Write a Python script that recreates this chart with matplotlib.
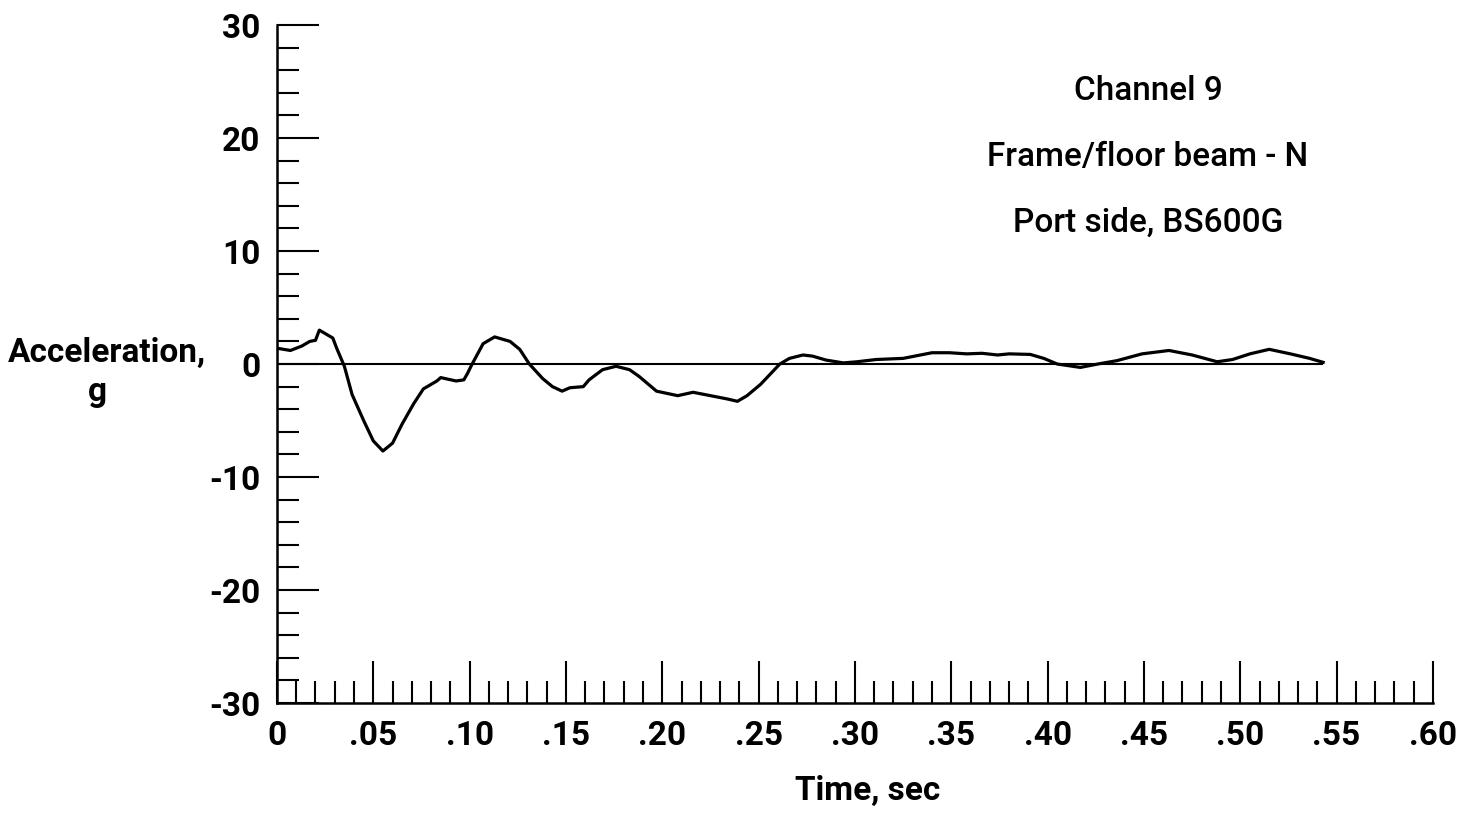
import numpy as np
import matplotlib
matplotlib.use("Agg")
from matplotlib import pyplot as plt
from matplotlib.ticker import MultipleLocator, FixedLocator, FixedFormatter

# Channel 9 record, acceleration (g) against time (sec)
time_s = [0.000, 0.007, 0.013, 0.017, 0.020, 0.022, 0.029, 0.031, 0.035, 0.039,
          0.045, 0.050, 0.055, 0.060, 0.065, 0.071, 0.076, 0.083, 0.085, 0.093,
          0.097, 0.099, 0.101, 0.107, 0.113, 0.121, 0.126, 0.131, 0.138, 0.143,
          0.148, 0.152, 0.159, 0.162, 0.169, 0.176, 0.183, 0.188, 0.197, 0.208,
          0.216, 0.225, 0.234, 0.239, 0.244, 0.251, 0.261, 0.266, 0.273, 0.278,
          0.285, 0.294, 0.301, 0.311, 0.325, 0.340, 0.349, 0.358, 0.366, 0.374,
          0.380, 0.391, 0.398, 0.405, 0.417, 0.426, 0.436, 0.449, 0.463, 0.475,
          0.488, 0.496, 0.505, 0.515, 0.526, 0.536, 0.543]
accel_g = [1.4, 1.2, 1.6, 2.0, 2.1, 3.0, 2.3, 1.4, -0.2, -2.7,
           -5.0, -6.8, -7.7, -7.0, -5.3, -3.5, -2.2, -1.5, -1.2, -1.5,
           -1.4, -0.8, -0.1, 1.8, 2.4, 2.0, 1.3, 0.0, -1.3, -2.0,
           -2.4, -2.1, -2.0, -1.4, -0.5, -0.2, -0.5, -1.1, -2.4, -2.8,
           -2.5, -2.8, -3.1, -3.3, -2.8, -1.8, 0.0, 0.5, 0.8, 0.7,
           0.35, 0.1, 0.2, 0.4, 0.5, 1.0, 1.0, 0.9, 0.95, 0.8,
           0.9, 0.85, 0.5, 0.0, -0.3, 0.0, 0.3, 0.9, 1.2, 0.8,
           0.2, 0.4, 0.9, 1.3, 0.9, 0.5, 0.15]

x_ticks = [0, 0.05, 0.10, 0.15, 0.20, 0.25, 0.30, 0.35, 0.40, 0.45, 0.50, 0.55, 0.60]
x_labels = ["0", ".05", ".10", ".15", ".20", ".25", ".30", ".35", ".40", ".45", ".50", ".55", ".60"]
y_ticks = [-30, -20, -10, 0, 10, 20, 30]
y_labels = ["-30", "-20", "-10", "0", "10", "20", "30"]

note_lines = ["Channel 9", "Frame/floor beam - N", "Port side, BS600G"]

plt.rcParams["font.family"] = ["Roboto", "DejaVu Sans"]

fig = plt.figure(figsize=(14.7, 8.21), dpi=100)
ax = fig.add_axes([0.1884, 0.1437, 0.7864, 0.8258])

ax.plot(time_s, accel_g, color="black", lw=2.3, solid_joinstyle="round")
ax.hlines(0, 0, time_s[-1], color="black", lw=1.5)

ax.set_xlim(0, 0.60)
ax.set_ylim(-30, 30)

ax.spines["top"].set_visible(False)
ax.spines["right"].set_visible(False)
ax.spines["left"].set_linewidth(1.8)
ax.spines["bottom"].set_linewidth(1.8)

ax.xaxis.set_major_locator(FixedLocator(x_ticks))
ax.xaxis.set_major_formatter(FixedFormatter(x_labels))
ax.xaxis.set_minor_locator(MultipleLocator(0.01))
ax.yaxis.set_major_locator(FixedLocator(y_ticks))
ax.yaxis.set_major_formatter(FixedFormatter(y_labels))
ax.yaxis.set_minor_locator(MultipleLocator(2))

ax.tick_params(which="major", direction="in", length=30, width=1.5, pad=12,
               labelsize=24)
ax.tick_params(which="minor", direction="in", length=16, width=1.5)
for lab in ax.get_xticklabels() + ax.get_yticklabels():
    lab.set_fontweight("bold")

# axis titles
fig.text(0.073, 0.559, "Acceleration,", ha="center", va="baseline",
         fontsize=24, fontweight="bold")
fig.text(0.066, 0.511, "g", ha="center", va="baseline",
         fontsize=24, fontweight="bold")
fig.text(0.590, 0.026, "Time, sec", ha="center", va="baseline",
         fontsize=24, fontweight="bold")

# channel description
for i, line in enumerate(note_lines):
    fig.text(0.781, 0.878 - i * 0.080, line, ha="center", va="baseline",
             fontsize=24, fontweight="medium")

fig.savefig("out.png", dpi=100)
